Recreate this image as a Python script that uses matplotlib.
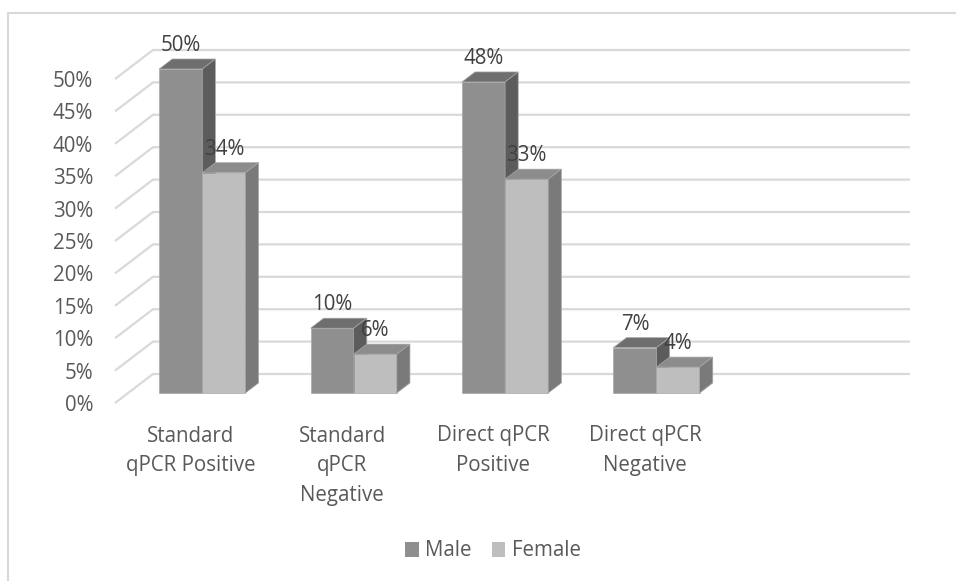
import matplotlib
matplotlib.use('Agg')
import matplotlib.pyplot as plt
from matplotlib.patches import Polygon, Patch
from matplotlib.lines import Line2D

# ---------------- data ----------------
categories = ["Standard\nqPCR Positive", "Standard\nqPCR\nNegative",
              "Direct qPCR\nPositive", "Direct qPCR\nNegative"]
series_names = ["Male", "Female"]
male = [50, 10, 48, 7]
female = [34, 6, 33, 4]
yticks = [0, 5, 10, 15, 20, 25, 30, 35, 40, 45, 50]
ytick_labels = [f"{v}%" for v in yticks]

# ---------------- style ----------------
plt.rcParams['font.family'] = ['Open Sans', 'DejaVu Sans']
FS = 14.8
TXT = '#595959'
GRID = '#d9d9d9'
face = {"Male": ('#8f8f8f', '#6e6e6e', '#5c5c5c'),
        "Female": ('#bebebe', '#8c8c8c', '#7a7a7a')}

W, H = 956, 581
fig = plt.figure(figsize=(W / 100, H / 100), dpi=100)

# layout in pixels
n_slots = 5
px_left, px_right = 115, 872
px_y0 = 403
px_per_pct = 6.48
ymax = 55
ax = fig.add_axes([px_left / W, (H - px_y0) / H, (px_right - px_left) / W,
                   ymax * px_per_pct / H])
ax.set_xlim(0, n_slots)
ax.set_ylim(0, ymax)
for s in ax.spines.values():
    s.set_visible(False)
ax.set_xticks([])
ax.set_yticks(yticks)
ax.set_yticklabels(ytick_labels)
ax.tick_params(axis='y', length=0, pad=15.8, labelsize=FS, labelcolor=TXT)
ax.patch.set_visible(False)

slot_px = (px_right - px_left) / n_slots
DX = 38 / slot_px          # full wall depth in x units
DY = 29 / px_per_pct       # full wall depth in y units

# walls / gridlines
for v in yticks:
    ax.plot([0, DX, n_slots + DX], [v + 0, v + DY, v + DY], color=GRID,
            lw=1.6, clip_on=False, zorder=1, solid_capstyle='butt')

# bars
d0, d1 = 0.345, 0.69
bw = 0.285
pair_center = 0.49
ddx, ddy = (d1 - d0) * DX, (d1 - d0) * DY
for i in range(len(categories)):
    for j, (name, vals) in enumerate(zip(series_names, [male, female])):
        v = vals[i]
        fc, tc, sc = face[name]
        x0 = i + pair_center - bw + j * bw + d0 * DX
        y0 = d0 * DY
        front = [(x0, y0), (x0 + bw, y0), (x0 + bw, y0 + v), (x0, y0 + v)]
        top = [(x0, y0 + v), (x0 + bw, y0 + v), (x0 + bw + ddx, y0 + v + ddy),
               (x0 + ddx, y0 + v + ddy)]
        side = [(x0 + bw, y0), (x0 + bw + ddx, y0 + ddy),
                (x0 + bw + ddx, y0 + v + ddy), (x0 + bw, y0 + v)]
        for poly, c in ((front, fc), (top, tc), (side, sc)):
            ax.add_patch(Polygon(poly, closed=True, facecolor=c, edgecolor='#a8a8a8',
                                 lw=0.5, zorder=3 + i * 0.1 + j * 0.01, clip_on=False))
        ax.text(x0 + bw / 2, v + d1 * DY + 8 / px_per_pct, f"{v}%", ha='center',
                va='baseline', fontsize=FS, color='#404040', zorder=10, clip_on=False)

# category labels
for i, lab in enumerate(categories):
    ax.text(i + 0.5, -(425.5 - px_y0) / px_per_pct, lab, ha='center', va='top',
            fontsize=FS, color=TXT, linespacing=1.55, clip_on=False)

# legend
handles = [Patch(facecolor=face[n][0], edgecolor='none') for n in series_names]
fig.legend(handles, series_names, loc='center', bbox_to_anchor=(493 / W, 1 - 551 / H),
           ncol=2, frameon=False, handlelength=0.68, handleheight=0.7,
           handletextpad=0.3, columnspacing=0.95, fontsize=FS, labelcolor=TXT,
           borderpad=0, borderaxespad=0)

# chart area border (partially visible)
fig.add_artist(Line2D([8 / W, 1], [1 - 13 / H, 1 - 13 / H], transform=fig.transFigure,
                      color=GRID, lw=1.5))
fig.add_artist(Line2D([8 / W, 8 / W], [0, 1 - 13 / H], transform=fig.transFigure,
                      color=GRID, lw=1.5))

fig.savefig('out.png', dpi=100, facecolor='white')
